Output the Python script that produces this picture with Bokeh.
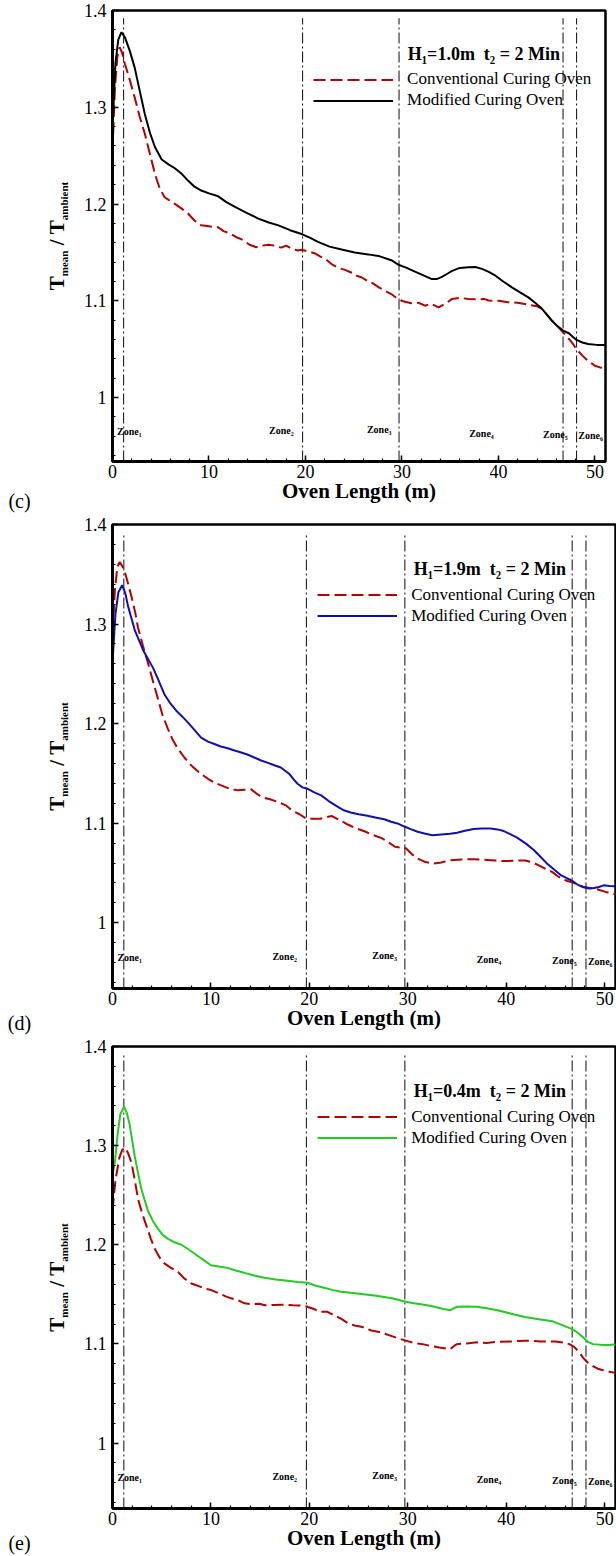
import numpy as np
from bokeh.plotting import figure
from bokeh.models import (Range1d, FixedTicker, PrintfTickFormatter, Label, Legend,
                          LegendItem, ColumnDataSource)
from bokeh.layouts import column, row
from bokeh.core.properties import value
from bokeh.embed import file_html
from bokeh.resources import INLINE

# ---------------- data ----------------
x_ticks = [0, 10, 20, 30, 40, 50]
y_ticks = [1.0, 1.1, 1.2, 1.3, 1.4]
zone_x = [1.15, 19.7, 29.7, 46.7, 48.1]
zone_names = ["Zone\u2081", "Zone\u2082", "Zone\u2083", "Zone\u2084", "Zone\u2085", "Zone\u2086"]
zone_label_x = [1.75, 17.5, 27.65, 38.25, 45.9, 49.55]
zone_label_y = [0.965, 0.966, 0.967, 0.963, 0.962, 0.961]
legend_labels = ["Conventional Curing Oven", "Modified Curing Oven"]

# (c)  H1 = 1.0 m
c_mod_x = [0, 0.3, 0.6, 0.93, 1.3, 1.8, 2.3, 2.8, 3.35, 3.9, 4.4, 5.1, 5.8, 6.46, 7.2, 7.85,
           8.5, 9.2, 10.0, 10.96, 11.8, 12.7, 13.9, 15.1, 16.2, 17.2, 18.4, 19.6, 20.5, 21.3,
           22.5, 23.75, 25.1, 26.5, 27.7, 28.9, 29.7, 30.5, 31.4, 32.3, 33.1, 33.6, 34.1,
           34.7, 35.2, 36.0, 36.9, 37.6, 38.3, 39.0, 39.7, 40.5, 41.4, 42.2, 43.1, 43.8, 44.5,
           45.0, 45.5, 46.1, 46.7, 47.3, 47.7, 48.1, 48.7, 49.3, 50.2, 51.1]
c_mod_y = [1.279, 1.345, 1.370, 1.3776, 1.372, 1.358, 1.341, 1.318, 1.293, 1.273, 1.259,
           1.246, 1.241, 1.237, 1.231, 1.224, 1.218, 1.214, 1.211, 1.208, 1.202, 1.197,
           1.191, 1.185, 1.181, 1.178, 1.173, 1.169, 1.165, 1.161, 1.156, 1.153, 1.150,
           1.148, 1.146, 1.142, 1.137, 1.134, 1.130, 1.126, 1.1225, 1.1225, 1.1245, 1.128,
           1.131, 1.134, 1.1347, 1.135, 1.133, 1.130, 1.126, 1.120, 1.114, 1.109, 1.1036,
           1.098, 1.092, 1.086, 1.080, 1.074, 1.0693, 1.0665, 1.063, 1.0596, 1.057, 1.0555,
           1.0545, 1.0545]
c_conv_x = [0, 0.25, 0.5, 0.76, 1.0, 1.28, 1.8, 2.3, 2.8, 3.35, 3.9, 4.4, 4.9, 5.4, 6.0, 6.5,
            7.2, 7.85, 8.5, 9.2, 10.0, 10.96, 11.5, 12.1, 12.8, 13.5, 14.2, 14.9, 15.5, 16.2,
            16.8, 17.5, 18.0, 18.6, 19.2, 19.6, 20.3, 21.0, 21.5, 22.1, 22.7, 23.4, 24.1, 24.8,
            25.3, 25.8, 26.5, 27.0, 27.6, 28.3, 28.9, 29.7, 30.3, 31.0, 31.7, 32.4, 33.0, 33.8,
            34.5, 35.2, 36.0, 36.9, 37.8, 38.5, 39.0, 40.0, 41.0, 42.0, 43.1, 44.0, 44.5, 45.0,
            45.5, 46.1, 46.7, 47.2, 47.6, 48.1, 48.7, 49.3, 50.0, 50.6, 51.1]
c_conv_y = [1.255, 1.32, 1.352, 1.362, 1.356, 1.345, 1.328, 1.310, 1.291, 1.2726, 1.251, 1.231,
            1.216, 1.207, 1.203, 1.200, 1.195, 1.190, 1.183, 1.178, 1.177, 1.176, 1.172, 1.170,
            1.166, 1.163, 1.158, 1.1554, 1.157, 1.158, 1.157, 1.155, 1.157, 1.1537, 1.152,
            1.1527, 1.151, 1.149, 1.146, 1.143, 1.138, 1.134, 1.132, 1.129, 1.126, 1.1244,
            1.120, 1.118, 1.114, 1.110, 1.107, 1.101, 1.099, 1.0975, 1.098, 1.095, 1.097,
            1.0933, 1.097, 1.102, 1.103, 1.102, 1.1015, 1.102, 1.1003, 1.100, 1.0985, 1.098,
            1.096, 1.0945, 1.0917, 1.086, 1.080, 1.074, 1.0675, 1.062, 1.0572, 1.050, 1.0434,
            1.038, 1.033, 1.031, 1.0286]

# (d)  H1 = 1.9 m
d_mod_x = [0, 0.3, 0.6, 0.98, 1.3, 1.59, 2.26, 3.1, 4.12, 4.7, 5.3, 5.9, 6.48, 7.1, 7.67, 8.3,
           9.0, 9.7, 10.35, 11.0, 11.7, 12.4, 13.07, 13.7, 14.4, 15.1, 15.8, 16.5, 17.1, 17.5,
           17.96, 18.4, 18.8, 19.3, 19.8, 20.5, 21.2, 22.0, 22.9, 23.5, 24.2, 25.0, 25.9, 26.7,
           27.6, 28.3, 28.95, 29.7, 30.3, 31.0, 31.8, 32.5, 33.1, 33.7, 34.3, 35.0, 35.8, 36.7,
           37.5, 38.4, 39.1, 39.75, 40.4, 41.1, 42.0, 42.8, 43.5, 44.1, 44.8, 45.5, 46.1, 46.7,
           47.3, 47.85, 48.4, 48.9, 49.4, 49.9, 50.5, 51.1]
d_mod_y = [1.262, 1.31, 1.332, 1.339, 1.331, 1.3175, 1.294, 1.274, 1.256, 1.243, 1.229, 1.220,
           1.213, 1.207, 1.201, 1.194, 1.186, 1.182, 1.1796, 1.177, 1.1753, 1.173, 1.171,
           1.169, 1.166, 1.163, 1.1606, 1.158, 1.156, 1.153, 1.1496, 1.144, 1.1396, 1.136,
           1.1347, 1.131, 1.128, 1.122, 1.1164, 1.113, 1.1107, 1.109, 1.1074, 1.1058, 1.104,
           1.1015, 1.0998, 1.0964, 1.094, 1.0914, 1.0895, 1.088, 1.0885, 1.089, 1.0895,
           1.0905, 1.0925, 1.0941, 1.0948, 1.0948, 1.0938, 1.0921, 1.089, 1.0855, 1.0795,
           1.0731, 1.066, 1.0599, 1.054, 1.0482, 1.045, 1.0422, 1.038, 1.0356, 1.0345, 1.0349,
           1.036, 1.0376, 1.037, 1.0366]
d_conv_x = [0, 0.25, 0.5, 0.74, 1.0, 1.25, 1.6, 1.93, 2.3, 2.6, 3.1, 3.6, 4.1, 4.63, 5.1, 5.64,
            6.1, 6.65, 7.3, 8.0, 8.8, 9.7, 10.3, 11.04, 11.8, 12.7, 13.4, 14.1, 14.6, 15.2, 16.0,
            16.95, 17.6, 18.3, 19.0, 19.7, 20.4, 21.1, 21.7, 22.3, 23.1, 23.9, 24.7, 25.6, 26.5,
            27.35, 28.0, 28.7, 29.3, 29.8, 30.4, 31.0, 31.8, 32.6, 33.4, 34.3, 35.5, 36.7, 37.5,
            38.4, 39.3, 40.2, 41.0, 41.9, 42.6, 43.3, 44.0, 44.7, 45.2, 45.7, 46.2, 46.7, 47.3,
            47.8, 48.5, 49.15, 50.1, 51.1]
d_conv_y = [1.29, 1.335, 1.358, 1.3624, 1.358, 1.3524, 1.340, 1.3275, 1.312, 1.296, 1.278,
            1.261, 1.243, 1.2244, 1.208, 1.1945, 1.184, 1.1746, 1.166, 1.158, 1.151, 1.1446,
            1.141, 1.138, 1.135, 1.133, 1.1335, 1.134, 1.130, 1.126, 1.124, 1.1209, 1.118,
            1.1123, 1.109, 1.1045, 1.1045, 1.1045, 1.106, 1.1072, 1.103, 1.0987, 1.095, 1.0919,
            1.088, 1.085, 1.081, 1.0764, 1.0755, 1.0748, 1.069, 1.0645, 1.061, 1.0594, 1.0605,
            1.0629, 1.0635, 1.0639, 1.0635, 1.0629, 1.0622, 1.062, 1.0625, 1.0625, 1.061,
            1.0577, 1.054, 1.0509, 1.047, 1.044, 1.042, 1.0406, 1.038, 1.0362, 1.035, 1.0338,
            1.031, 1.0287]

# (e)  H1 = 0.4 m
e_mod_x = [0, 0.24, 0.5, 0.8, 1.18, 1.45, 1.75, 2.0, 2.26, 2.6, 2.94, 3.3, 3.6, 4.1, 4.63, 5.1,
           5.64, 6.3, 7.0, 7.7, 8.34, 9.2, 10.0, 10.8, 11.7, 12.5, 13.4, 14.4, 15.4, 16.6, 17.8,
           18.8, 19.8, 20.6, 21.5, 22.3, 23.2, 24.2, 25.5, 26.8, 28.4, 29.8, 30.6, 31.5, 32.5,
           33.5, 34.3, 35.0, 36.0, 37.0, 38.0, 39.1, 40.5, 41.9, 43.3, 44.7, 45.7, 46.7, 47.3,
           47.8, 48.3, 48.8, 49.85, 50.5, 51.1]
e_mod_y = [1.27, 1.2827, 1.31, 1.332, 1.3393, 1.333, 1.321, 1.305, 1.2893, 1.272, 1.256, 1.244,
           1.2343, 1.224, 1.216, 1.210, 1.206, 1.2025, 1.200, 1.1955, 1.191, 1.185, 1.1793,
           1.178, 1.1767, 1.174, 1.1717, 1.169, 1.1667, 1.165, 1.1637, 1.1625, 1.1617, 1.159,
           1.1567, 1.1545, 1.1527, 1.1515, 1.150, 1.1485, 1.146, 1.1426, 1.141, 1.1398, 1.138,
           1.1355, 1.134, 1.1375, 1.1378, 1.1375, 1.136, 1.134, 1.1305, 1.1272, 1.125, 1.1228,
           1.119, 1.115, 1.111, 1.1067, 1.102, 1.0998, 1.0988, 1.099, 1.0998]
e_conv_x = [0, 0.3, 0.7, 1.0, 1.32, 1.6, 1.93, 2.25, 2.6, 3.0, 3.44, 3.9, 4.29, 4.8, 5.3, 5.9,
            6.65, 7.3, 8.0, 8.6, 9.3, 10.03, 10.8, 11.5, 12.06, 12.8, 13.4, 14.1, 14.9, 15.5,
            16.3, 17.2, 18.3, 19.0, 19.7, 20.4, 21.1, 21.8, 22.5, 23.2, 23.9, 24.6, 25.4, 26.3,
            27.1, 28.0, 28.9, 29.8, 30.6, 31.5, 32.3, 33.2, 34.3, 34.7, 35.0, 36.0, 37.0, 38.0,
            39.1, 40.5, 41.9, 43.5, 45.0, 46.0, 46.4, 46.9, 47.4, 47.8, 48.3, 48.8, 49.3, 49.85,
            50.5, 51.1]
e_conv_y = [1.235, 1.265, 1.288, 1.296, 1.2977, 1.292, 1.2827, 1.266, 1.246, 1.232, 1.2193,
            1.206, 1.196, 1.187, 1.181, 1.177, 1.1727, 1.166, 1.161, 1.159, 1.156, 1.1543,
            1.151, 1.148, 1.146, 1.144, 1.141, 1.140, 1.1405, 1.139, 1.1392, 1.1395, 1.139,
            1.1388, 1.1378, 1.1355, 1.1323, 1.1325, 1.129, 1.1255, 1.121, 1.1186, 1.117,
            1.1135, 1.112, 1.1091, 1.106, 1.1033, 1.101, 1.0998, 1.098, 1.0964, 1.0947, 1.098,
            1.0998, 1.1005, 1.1016, 1.101, 1.1022, 1.1025, 1.1033, 1.1025, 1.1025, 1.101,
            1.0998, 1.097, 1.092, 1.0862, 1.081, 1.0776, 1.075, 1.0735, 1.072, 1.0708]

X_RANGE = (0.0, 51.1)
Y_RANGE = (0.934, 1.4)
ZONE_TOP = 1.392

FONT = "Liberation Serif"
RED = "#b30000"
A_W = 38             # strip holding the panel letter (as an x-axis title)
B_W = 42             # strip holding the rotated y title
LEFT = 111           # page x of the main frame's left edge

BOLD_W = {'T': .667, 'm': .833, 'e': .444, 'a': .5, 'n': .556, 'b': .556, 'i': .278,
          't': .333, '/': .278, ' ': .25, '\u00a0': .25}


def text_w(s, size):
    return sum(BOLD_W.get(ch, .5) for ch in s) * size


def bare_fig(width, H, x_range, y_range, x_axis):
    f = figure(width=width, height=H, x_range=x_range, y_range=y_range,
               x_axis_type="linear" if x_axis else None, y_axis_type=None,
               output_backend="svg", toolbar_location=None, min_border_left=0,
               min_border_right=0, min_border_top=0, min_border_bottom=0)
    f.outline_line_color = None
    f.background_fill_color = "white"
    f.border_fill_color = "white"
    f.grid.visible = False
    return f


def letter_strip(H, letter, standoff):
    a = bare_fig(A_W, H, Range1d(0, A_W), Range1d(*Y_RANGE), True)
    ax = a.xaxis[0]
    ax.ticker = FixedTicker(ticks=[])
    ax.axis_line_color = None
    ax.major_tick_line_color = None
    ax.minor_tick_line_color = None
    ax.major_label_text_font_size = "0px"
    ax.major_label_standoff = 0
    ax.major_tick_out = 0
    ax.minor_tick_out = 0
    ax.axis_label = letter
    ax.axis_label_text_font = FONT
    ax.axis_label_text_font_style = "normal"
    ax.axis_label_text_font_size = "20px"
    ax.axis_label_text_color = "black"
    ax.axis_label_standoff = standoff
    return a


def ytitle_strip(H, frame_h):
    b = bare_fig(B_W, H, Range1d(A_W, A_W + B_W), Range1d(*Y_RANGE), False)
    dy = (Y_RANGE[1] - Y_RANGE[0]) / frame_h
    pieces = [("T", 21, False), ("mean", 11, True), ("\u00a0/\u00a0", 21, False),
              ("T", 21, False), ("ambient", 11, True)]
    total = sum(text_w(t, sz) for t, sz, _ in pieces)
    ypos = frame_h / 2 - total / 2
    for t, sz, sub in pieces:
        b.add_layout(Label(x=63 if sub else 56, y=Y_RANGE[0] + ypos * dy, text=t,
                           angle=np.pi / 2, text_font=FONT, text_font_style="bold",
                           text_font_size=f"{sz}px", text_align="left",
                           text_baseline="middle", text_color="black"))
        ypos += text_w(t, sz)
    return b


def make_panel(mod_x, mod_y, conv_x, conv_y, mod_color, header, letter,
               frame_w, frame_h, b_top, b_bottom, b_right, letter_standoff):
    bl = LEFT - A_W - B_W
    W = bl + frame_w + b_right
    H = b_top + frame_h + b_bottom
    p = figure(width=W, height=H, x_range=Range1d(*X_RANGE), y_range=Range1d(*Y_RANGE),
               output_backend="svg", toolbar_location=None,
               min_border_left=bl, min_border_right=b_right,
               min_border_top=b_top, min_border_bottom=b_bottom)
    p.grid.visible = False
    p.background_fill_color = "white"
    p.border_fill_color = "white"
    p.outline_line_color = "black"
    p.outline_line_width = 2.5

    for ax in (p.xaxis[0], p.yaxis[0]):
        ax.axis_line_width = 3
        ax.axis_line_color = "black"
        ax.major_tick_in = 6
        ax.major_tick_out = 0
        ax.minor_tick_in = 3
        ax.minor_tick_out = 0
        ax.major_tick_line_width = 1.5
        ax.minor_tick_line_width = 1.2
        ax.major_label_text_font = FONT
        ax.major_label_text_font_size = "18px"
        ax.major_label_text_color = "black"
    p.xaxis.major_label_standoff = 3
    p.yaxis.major_label_standoff = 6
    p.xaxis.axis_label = "Oven Length (m)"
    p.xaxis.axis_label_text_font = FONT
    p.xaxis.axis_label_text_font_style = "bold"
    p.xaxis.axis_label_text_font_size = "21px"
    p.xaxis.axis_label_text_color = "black"
    p.xaxis.axis_label_standoff = -2

    x_minor = [round(v, 3) for v in np.arange(0, 52, 2)]
    y_minor = [round(v, 3) for v in np.arange(0.94, 1.4, 0.02)]
    p.xaxis.ticker = FixedTicker(ticks=x_ticks, minor_ticks=x_minor)
    p.yaxis.ticker = FixedTicker(ticks=y_ticks, minor_ticks=y_minor)
    p.yaxis.formatter = PrintfTickFormatter(format="%g")

    # zone separators
    zsrc = ColumnDataSource(dict(x=zone_x, y0=[Y_RANGE[0]] * len(zone_x),
                                 y1=[ZONE_TOP] * len(zone_x)))
    p.segment(x0="x", y0="y0", x1="x", y1="y1", source=zsrc, line_color="#222222",
              line_width=1.1, line_dash="11 3 2 3")
    tsrc = ColumnDataSource(dict(x=zone_label_x, y=zone_label_y, t=zone_names))
    p.text(x="x", y="y", text="t", source=tsrc, text_font=value(FONT),
           text_font_style="bold", text_font_size="10px", text_align="center",
           text_baseline="middle", text_color="black")

    r_conv = p.line(conv_x, conv_y, line_color=RED, line_width=2, line_dash="12 5")
    r_mod = p.line(mod_x, mod_y, line_color=mod_color, line_width=2)

    # legend
    yfrac = (1.3287 - Y_RANGE[0]) / (Y_RANGE[1] - Y_RANGE[0])
    row_c = yfrac * frame_h
    vx = 20.8 / (X_RANGE[1] - X_RANGE[0]) * frame_w
    legend = Legend(items=[LegendItem(label=legend_labels[0], renderers=[r_conv]),
                           LegendItem(label=legend_labels[1], renderers=[r_mod])],
                    location=(vx, row_c - 10.5 - 21), glyph_width=80, glyph_height=21,
                    label_height=21, label_standoff=14, padding=0, margin=0, spacing=0,
                    border_line_color=None, background_fill_alpha=0,
                    label_text_font=FONT, label_text_font_size="17px",
                    label_text_color="black")
    p.add_layout(legend)
    p.add_layout(Label(x=30.6, y=1.355, text=header, text_font=FONT,
                       text_font_style="bold", text_font_size="18px",
                       text_baseline="middle", text_align="left", text_color="black"))

    return row(letter_strip(H, letter, letter_standoff), ytitle_strip(H, frame_h), p,
               spacing=0)


p1 = make_panel(c_mod_x, c_mod_y, c_conv_x, c_conv_y, "black",
                "H\u2081=1.0m\u00a0 t\u2082 = 2 Min", "(c)",
                frame_w=494, frame_h=451, b_top=10, b_bottom=53, b_right=3,
                letter_standoff=28)
p2 = make_panel(d_mod_x, d_mod_y, d_conv_x, d_conv_y, "#1010b0",
                "H\u2081=1.9m\u00a0 t\u2082 = 2 Min", "(d)",
                frame_w=504, frame_h=464, b_top=10, b_bottom=48, b_right=1,
                letter_standoff=23)
p3 = make_panel(e_mod_x, e_mod_y, e_conv_x, e_conv_y, "#22cc22",
                "H\u2081=0.4m\u00a0 t\u2082 = 2 Min", "(e)",
                frame_w=504, frame_h=462, b_top=10, b_bottom=48, b_right=1,
                letter_standoff=23)

layout = column(p1, p2, p3, spacing=0)
open("out.html", "w").write(file_html(layout, INLINE))
